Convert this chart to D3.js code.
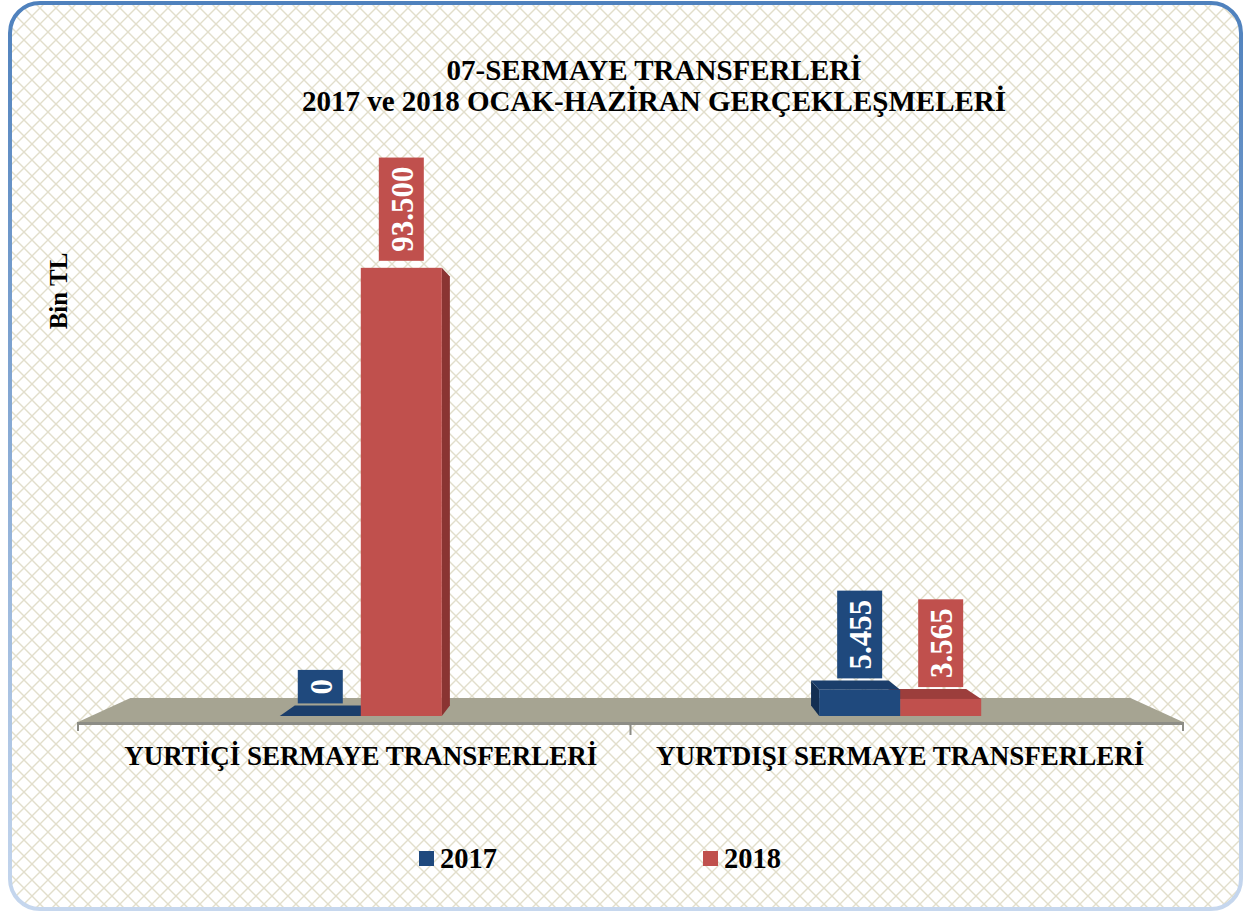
<!DOCTYPE html>
<html>
<head>
<meta charset="utf-8">
<script src="https://cdn.jsdelivr.net/npm/d3@7"></script>
<style>
  body { margin: 0; background: #fff; }
  svg { display: block; }
  text { font-family: "Liberation Serif", "Times New Roman", serif; font-weight: bold; }
</style>
</head>
<body>
<svg></svg>
<script>
let width = 1249;
let height = 913;

// chart data
let categories = ['YURTİÇİ SERMAYE TRANSFERLERİ', 'YURTDIŞI SERMAYE TRANSFERLERİ'];
let series = ['2017', '2018'];
let values2017 = [0, 5455];
let values2018 = [93500, 3565];
let valueLabels2017 = ['0', '5.455'];
let valueLabels2018 = ['93.500', '3.565'];
let titleLines = ['07-SERMAYE TRANSFERLERİ', '2017 ve 2018 OCAK-HAZİRAN GERÇEKLEŞMELERİ'];
let yTitle = 'Bin TL';

let colors = {
    '2017': { front: '#1f497d', side: '#132f52', top: '#1b3e6b' },
    '2018': { front: '#c0504d', side: '#8a3432', top: '#9c3e3c' }
};

let svg = d3.select('svg')
    .attr('width', width)
    .attr('height', height);

// lattice background
let defs = svg.append('defs');
let pat = defs.append('pattern')
    .attr('id', 'lattice')
    .attr('patternUnits', 'userSpaceOnUse')
    .attr('width', 16)
    .attr('height', 16);
pat.append('rect').attr('width', 16).attr('height', 16).attr('fill', '#fff');
pat.append('path')
    .attr('d', 'M0,0 L16,16 M16,0 L0,16')
    .attr('stroke', '#e2decb')
    .attr('stroke-width', 1.4);

let grad = defs.append('linearGradient')
    .attr('id', 'border')
    .attr('x1', 0).attr('y1', 0).attr('x2', 0).attr('y2', 1);
grad.append('stop').attr('offset', '0%').attr('stop-color', '#4f81bd');
grad.append('stop').attr('offset', '100%').attr('stop-color', '#c6d7ee');

svg.append('rect')
    .attr('x', 10).attr('y', 3)
    .attr('width', 1231).attr('height', 906)
    .attr('rx', 30).attr('ry', 30)
    .attr('fill', 'url(#lattice)')
    .attr('stroke', 'url(#border)')
    .attr('stroke-width', 4);

// simple perspective projection (front plane z=0, back z=1)
let vp = { x: 630, y: 469 };
let k = 0.095;
function proj(X, Y, z) {
    let s = 1 - k * z;
    return [vp.x + (X - vp.x) * s, vp.y + (Y - vp.y) * s];
}
function poly(pts) {
    return 'M' + pts.map(p => p.join(',')).join('L') + 'Z';
}

let floorLeft = 78, floorRight = 1183, floorY = 722;

let x0 = d3.scaleBand()
    .domain(categories)
    .range([floorLeft, floorRight]);
let x1 = d3.scaleBand()
    .domain(series)
    .range([-83, 83]);
let y = d3.scaleLinear()
    .domain([0, 100000])
    .range([floorY, 231]);

// floor
svg.append('path')
    .attr('d', poly([proj(floorLeft, floorY, 0), proj(floorRight, floorY, 0), proj(floorRight, floorY, 1), proj(floorLeft, floorY, 1)]))
    .attr('fill', '#a6a492');
svg.append('rect')
    .attr('x', floorLeft).attr('y', floorY)
    .attr('width', floorRight - floorLeft).attr('height', 3)
    .attr('fill', '#8d8d86');

// category ticks
let tickXs = [floorLeft, floorRight].concat(categories.slice(1).map(c => x0(c)));
svg.selectAll('line.tick')
    .data(tickXs)
    .enter()
    .append('line')
    .attr('x1', d => d).attr('x2', d => d)
    .attr('y1', floorY).attr('y2', (d, i) => i < 2 ? floorY + 9 : floorY + 13)
    .attr('stroke', '#8d8d86')
    .attr('stroke-width', 2);

// bars
let bars = [];
categories.forEach((c, i) => {
    bars.push({ cat: c, s: '2017', v: values2017[i], label: valueLabels2017[i] });
    bars.push({ cat: c, s: '2018', v: values2018[i], label: valueLabels2018[i] });
});
let zf = 0.25, zb = 0.69;
bars.forEach(d => {
    let cx = x0(d.cat) + x0.bandwidth() / 2;
    d.xl = cx + x1(d.s);
    d.xr = d.xl + x1.bandwidth();
    d.yb = y(0);
    d.yt = y(d.v);
    d.mid = (d.xl + d.xr) / 2;
});
// farthest from the vanishing point first
bars.sort((a, b) => Math.abs(b.mid - vp.x) - Math.abs(a.mid - vp.x));

let barG = svg.append('g');
bars.forEach(d => {
    let g = barG.append('g');
    let c = colors[d.s];
    // side face
    let sx = d.mid < vp.x ? d.xr : d.xl;
    g.append('path')
        .attr('d', poly([proj(sx, d.yb, zf), proj(sx, d.yt, zf), proj(sx, d.yt, zb), proj(sx, d.yb, zb)]))
        .attr('fill', c.side);
    // top face (visible only below the eye level)
    if (d.yt > vp.y) {
        g.append('path')
            .attr('d', poly([proj(d.xl, d.yt, zf), proj(d.xr, d.yt, zf), proj(d.xr, d.yt, zb), proj(d.xl, d.yt, zb)]))
            .attr('fill', c.top);
    }
    // front face
    let a = proj(d.xl, d.yt, zf), b = proj(d.xr, d.yb, zf);
    g.append('rect')
        .attr('x', a[0]).attr('y', a[1])
        .attr('width', b[0] - a[0]).attr('height', Math.max(0, b[1] - a[1]))
        .attr('fill', c.front);
});

// data labels
bars.forEach(d => {
    let c = colors[d.s];
    let cx = proj(d.mid, d.yt, zf)[0];
    let fy = proj(d.mid, d.yt, zf)[1];
    let topY = Math.min(fy, proj(d.mid, d.yt, zb)[1]);
    let g = svg.append('g');
    let t = g.append('text')
        .attr('fill', '#fff')
        .style('font-size', '31px')
        .attr('text-anchor', 'middle')
        .attr('dominant-baseline', 'central')
        .text(d.label);
    let len = t.node().getComputedTextLength();
    let h = len + 18;
    let bottom = d.yt < vp.y ? topY - 7 : topY - 2;
    g.insert('rect', 'text')
        .attr('x', cx - 22.5).attr('y', bottom - h)
        .attr('width', 45).attr('height', h)
        .attr('fill', c.front);
    t.attr('transform', `translate(${cx + 1},${bottom - h / 2}) rotate(-90)`);
});

// category labels
svg.selectAll('text.cat')
    .data(categories)
    .enter()
    .append('text')
    .classed('cat', true)
    .attr('x', d => proj(x0(d) + x0.bandwidth() / 2, 0, zf)[0])
    .attr('y', 765)
    .attr('text-anchor', 'middle')
    .style('font-size', '27px')
    .text(d => d);

// title
svg.selectAll('text.title')
    .data(titleLines)
    .enter()
    .append('text')
    .classed('title', true)
    .attr('x', 654)
    .attr('y', (d, i) => 80 + i * 31)
    .attr('text-anchor', 'middle')
    .style('font-size', '29px')
    .text(d => d);

// y axis title
svg.append('text')
    .attr('transform', 'translate(67,291) rotate(-90)')
    .attr('text-anchor', 'middle')
    .style('font-size', '25px')
    .text(yTitle);

// legend
let legendX = [419, 703];
let legend = svg.selectAll('g.legend')
    .data(series)
    .enter()
    .append('g')
    .classed('legend', true)
    .attr('transform', (d, i) => `translate(${legendX[i]},851)`);
legend.append('rect')
    .attr('width', 15).attr('height', 15)
    .attr('fill', d => colors[d].front);
legend.append('text')
    .attr('x', 21).attr('y', 17)
    .style('font-size', '28.5px')
    .text(d => d);
</script>
</body>
</html>
